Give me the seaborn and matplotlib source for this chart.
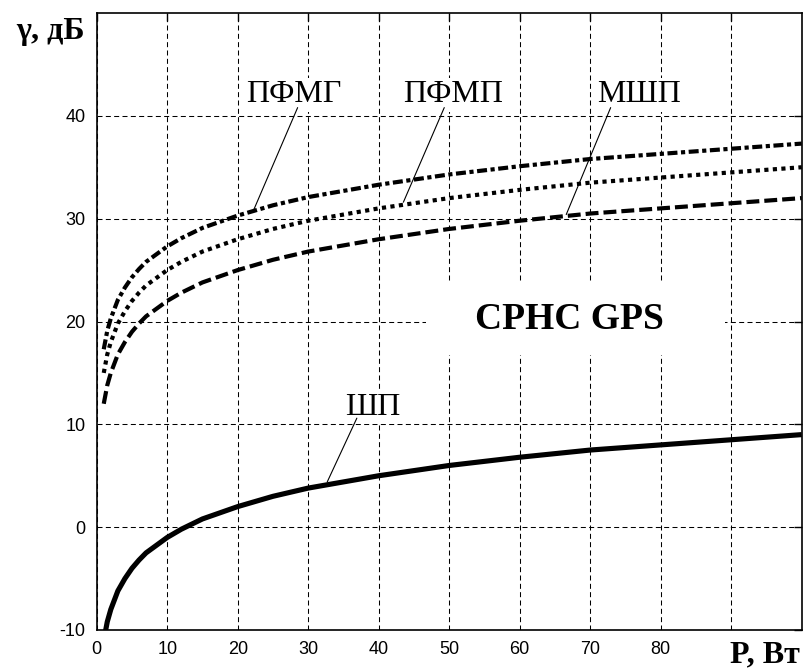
import matplotlib
matplotlib.use("Agg")
import matplotlib.pyplot as plt
import seaborn as sns
import pandas as pd
from matplotlib.patches import Rectangle

# ---- data ----
P = [1, 1.5, 2, 3, 4, 5, 6, 7, 8, 10, 12, 15, 20, 25, 30, 40, 50, 60, 70, 80, 90, 100]
pfmg = [17.3, 19.1, 20.3, 22.1, 23.3, 24.3, 25.1, 25.8, 26.3, 27.3, 28.1, 29.1, 30.3,
        31.3, 32.1, 33.3, 34.3, 35.1, 35.8, 36.3, 36.8, 37.3]
pfmp = [15.0, 16.8, 18.0, 19.8, 21.0, 22.0, 22.8, 23.5, 24.0, 25.0, 25.8, 26.8, 28.0,
        29.0, 29.8, 31.0, 32.0, 32.8, 33.5, 34.0, 34.5, 35.0]
mshp = [12.0, 13.8, 15.0, 16.8, 18.0, 19.0, 19.8, 20.5, 21.0, 22.0, 22.8, 23.8, 25.0,
        26.0, 26.8, 28.0, 29.0, 29.8, 30.5, 31.0, 31.5, 32.0]
shp = [-11.0, -9.2, -8.0, -6.2, -5.0, -4.0, -3.2, -2.5, -2.0, -1.0, -0.2, 0.8, 2.0,
       3.0, 3.8, 5.0, 6.0, 6.8, 7.5, 8.0, 8.5, 9.0]
series_names = ["ПФМГ", "ПФМП", "МШП", "ШП"]
x_ticks = [0, 10, 20, 30, 40, 50, 60, 70, 80, 90]
x_ticklabels = ["0", "10", "20", "30", "40", "50", "60", "70", "80", ""]
y_ticks = [-10, 0, 10, 20, 30, 40]
y_ticklabels = ["-10", "0", "10", "20", "30", "40"]

df = pd.DataFrame({"P": P, "ПФМГ": pfmg, "ПФМП": pfmp, "МШП": mshp, "ШП": shp})

sns.set_theme(style="white")
plt.rcParams["font.family"] = ["Liberation Sans", "DejaVu Sans"]

fig = plt.figure(figsize=(8.11, 6.68), dpi=100)
fig.patch.set_facecolor("white")
ax = fig.add_axes([96.7 / 811, 1 - 630 / 668, (801.7 - 96.7) / 811, (630 - 13) / 668])
ax.set_facecolor("white")

styles = {
    "ПФМГ": dict(lw=3.0, dashes=(2.4, 0.85, 1.0, 0.85)),
    "ПФМП": dict(lw=3.0, dashes=(1.0, 1.05)),
    "МШП": dict(lw=3.0, dashes=(3.1, 1.2)),
    "ШП": dict(lw=3.7, dashes=None),
}
for name in series_names:
    sns.lineplot(data=df, x="P", y=name, ax=ax, color="black",
                 lw=styles[name]["lw"], legend=False, zorder=3)
    line = ax.lines[-1]
    if styles[name]["dashes"] is not None:
        line.set_dashes(styles[name]["dashes"])
    line.set_dash_capstyle("butt")
    line.set_solid_capstyle("butt")

ax.set_xlim(0, 100)
ax.set_ylim(-10, 50)
ax.set_xticks(x_ticks)
ax.set_xticklabels(x_ticklabels)
ax.set_yticks(y_ticks)
ax.set_yticklabels(y_ticklabels)
ax.set_xlabel("")
ax.set_ylabel("")

ax.grid(True, color="black", linestyle=(0, (4.8, 3.2)), lw=0.75)
ax.set_axisbelow(True)
ax.tick_params(direction="in", length=6, width=1.0, colors="black",
               labelsize=13, top=True, right=True, pad=8)
for s in ax.spines.values():
    s.set_color("black")
    s.set_linewidth(1.2)
    s.set_zorder(4)

# white mask behind the inner title
ax.add_patch(Rectangle((46.7, 16.7), 42.4, 7.0, facecolor="white",
                       edgecolor="none", zorder=1.5))

serif = ["Liberation Serif", "DejaVu Serif"]
box = dict(facecolor="white", edgecolor="none", pad=1.5)
labels = [
    ("ПФМГ", 27.9, 41.3, (28.5, 40.8), (22.3, 30.9)),
    ("ПФМП", 50.6, 41.3, (49.3, 40.8), (43.5, 31.6)),
    ("МШП", 76.9, 41.3, (72.9, 40.8), (66.6, 30.4)),
    ("ШП", 39.1, 10.9, (36.9, 10.6), (32.7, 4.4)),
]
for txt, tx, ty, p0, p1 in labels:
    ax.text(tx, ty, txt, ha="center", va="baseline", fontsize=23,
            family=serif, color="black", bbox=box, zorder=2)
    ax.annotate("", xy=p1, xytext=p0,
                arrowprops=dict(arrowstyle="-", lw=0.8, color="black",
                                shrinkA=0, shrinkB=0), zorder=2.5)

ax.text(67.0, 19.3, "СРНС GPS", ha="center", va="baseline", fontsize=27,
        fontweight="bold", family=serif, color="black", zorder=2)

fig.text(50 / 811, 1 - 32 / 668, "γ, дБ", ha="center", va="center",
         fontsize=23, fontweight="bold", family=serif, color="black")
fig.text(730 / 811, 1 - 655 / 668, "P, Вт", ha="left", va="center",
         fontsize=23, fontweight="bold", family=serif, color="black")

fig.savefig("out.png", dpi=100, facecolor="white")
